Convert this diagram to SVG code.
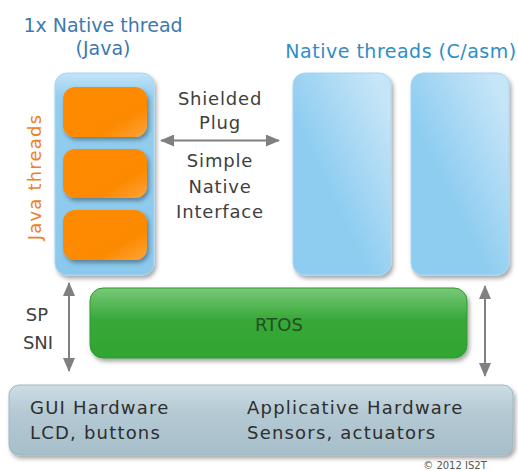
<svg xmlns="http://www.w3.org/2000/svg" width="518" height="471" viewBox="0 0 518 471">
  <style>
    text { font-family: "DejaVu Sans", "Liberation Sans", sans-serif; }
    .title { font-size: 19px; }
    .label { fill: #404040; font-size: 18px; letter-spacing: 0.8px; }
    .hw { fill: #2e2e2e; font-size: 18px; letter-spacing: 1.2px; }
    .conn { stroke: #808080; stroke-width: 2; fill: none; }
  </style>
  <defs>
    <filter id="shadow" x="-10%" y="-10%" width="125%" height="125%">
      <feDropShadow dx="2" dy="3" stdDeviation="2" flood-color="#000" flood-opacity="0.35"/>
    </filter>
    <linearGradient id="gJava" x1="0" y1="0" x2="0" y2="1">
      <stop offset="0" stop-color="#c3e4f7"/>
      <stop offset="0.12" stop-color="#93cdef"/>
      <stop offset="1" stop-color="#8ac9ed"/>
    </linearGradient>
    <linearGradient id="gNative" x1="0.8" y1="0" x2="0.3" y2="0.5">
      <stop offset="0" stop-color="#c6e5f7"/>
      <stop offset="1" stop-color="#8fcdf0"/>
    </linearGradient>
    <linearGradient id="gOrange" x1="0" y1="0" x2="1" y2="1">
      <stop offset="0" stop-color="#ff8a00"/>
      <stop offset="0.7" stop-color="#fc8a02"/>
      <stop offset="1" stop-color="#ffa43a"/>
    </linearGradient>
    <linearGradient id="gGreen" x1="0" y1="0" x2="0" y2="1">
      <stop offset="0" stop-color="#79c979"/>
      <stop offset="0.45" stop-color="#38a838"/>
      <stop offset="1" stop-color="#30a530"/>
    </linearGradient>
    <linearGradient id="gHw" x1="0" y1="0" x2="0" y2="1">
      <stop offset="0" stop-color="#cddde4"/>
      <stop offset="0.4" stop-color="#b4c9d3"/>
      <stop offset="1" stop-color="#a6bfca"/>
    </linearGradient>
    <marker id="arrow" viewBox="0 0 14 12" refX="13" refY="6" markerWidth="14" markerHeight="12" markerUnits="userSpaceOnUse" orient="auto-start-reverse">
      <path d="M0,0 L14,6 L0,12 z" fill="#808080"/>
    </marker>
  </defs>

  <!-- Java native thread hosting the Java threads -->
  <g id="java-thread">
    <text class="title" x="103" y="32" text-anchor="middle" fill="#3d78b0">1x Native thread</text>
    <text class="title" x="103" y="55" text-anchor="middle" fill="#3d78b0">(Java)</text>
    <rect x="55" y="73" width="99" height="202" rx="12" fill="url(#gJava)" stroke="#a8d6f2" stroke-width="1" filter="url(#shadow)"/>
    <rect x="63" y="87" width="84" height="50" rx="12" fill="url(#gOrange)" filter="url(#shadow)"/>
    <rect x="63" y="149" width="84" height="49" rx="12" fill="url(#gOrange)" filter="url(#shadow)"/>
    <rect x="63" y="210" width="84" height="50" rx="12" fill="url(#gOrange)" filter="url(#shadow)"/>
    <text x="41" y="177" transform="rotate(-90 41 177)" text-anchor="middle" fill="#f07f1f" font-size="18" letter-spacing="1.2">Java threads</text>
  </g>

  <!-- Native C/asm threads -->
  <g id="native-threads">
    <text class="title" x="401" y="58" text-anchor="middle" fill="#2f8dc5" letter-spacing="0.5">Native threads (C/asm)</text>
    <rect x="293" y="73" width="98" height="202" rx="12" fill="url(#gNative)" stroke="#a8d6f2" stroke-width="1" filter="url(#shadow)"/>
    <rect x="411" y="73" width="98" height="202" rx="12" fill="url(#gNative)" stroke="#a8d6f2" stroke-width="1" filter="url(#shadow)"/>
  </g>

  <!-- RTOS layer -->
  <g id="rtos">
    <rect x="90" y="288" width="377" height="70" rx="13" fill="url(#gGreen)" stroke="#2f9a2f" stroke-width="1" filter="url(#shadow)"/>
    <text x="279" y="331" text-anchor="middle" fill="#234f23" font-size="18">RTOS</text>
  </g>

  <!-- Hardware layer -->
  <g id="hardware">
    <rect x="9" y="385" width="504" height="70" rx="10" fill="url(#gHw)" stroke="#9fb7c2" stroke-width="1" filter="url(#shadow)"/>
    <text class="hw" x="30" y="414">GUI Hardware</text>
    <text class="hw" x="30" y="439">LCD, buttons</text>
    <text class="hw" x="247" y="414">Applicative Hardware</text>
    <text class="hw" x="247" y="439">Sensors, actuators</text>
  </g>

  <!-- Connectors -->
  <g id="connectors">
    <line class="conn" x1="161" y1="140.5" x2="279" y2="140.5" marker-start="url(#arrow)" marker-end="url(#arrow)"/>
    <line class="conn" x1="69" y1="283" x2="69" y2="371" marker-start="url(#arrow)" marker-end="url(#arrow)"/>
    <line class="conn" x1="485" y1="286" x2="485" y2="376" marker-start="url(#arrow)" marker-end="url(#arrow)"/>
  </g>

  <!-- Connector labels -->
  <g id="labels">
    <text class="label" x="220" y="105" text-anchor="middle">Shielded</text>
    <text class="label" x="220" y="129" text-anchor="middle">Plug</text>
    <text class="label" x="220" y="167" text-anchor="middle">Simple</text>
    <text class="label" x="220" y="193" text-anchor="middle">Native</text>
    <text class="label" x="220" y="218" text-anchor="middle">Interface</text>
    <text class="label" x="37" y="321" text-anchor="middle" style="letter-spacing:0">SP</text>
    <text class="label" x="38" y="349" text-anchor="middle" style="letter-spacing:0">SNI</text>
  </g>

  <text x="455" y="469" text-anchor="middle" fill="#555" font-size="10">© 2012 IS2T</text>
</svg>
